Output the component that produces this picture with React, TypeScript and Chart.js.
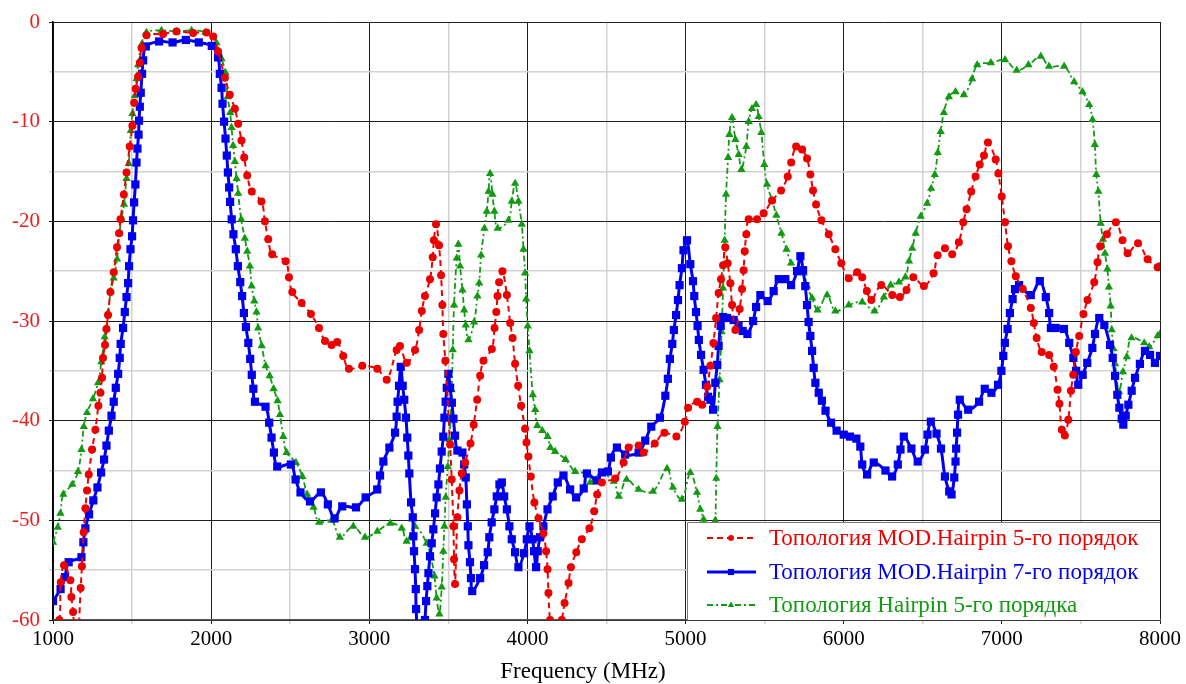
import React, { useEffect, useRef } from "react";
import { Chart, registerables } from "chart.js";

Chart.register(...registerables);

// ---------- DATA ----------
const seriesLabels = [
  "Топология MOD.Hairpin 5-го порядок",
  "Топология MOD.Hairpin 7-го порядок",
  "Топология Hairpin 5-го порядка",
];
const xTickValues = [1000, 2000, 3000, 4000, 5000, 6000, 7000, 8000];
const yTickValues = [0, -10, -20, -30, -40, -50, -60];
const xTitle = "Frequency (MHz)";

const redFreq = [
  1000, 1040, 1049, 1070, 1110, 1116, 1127, 1150, 1175, 1183, 1194, 1205, 1215, 1226, 1247, 1268, 1287, 1300, 1310, 1316,
  1329, 1338, 1348, 1363, 1384, 1405, 1418, 1427, 1448, 1465, 1485, 1502, 1513, 1523, 1538, 1549, 1560, 1591, 1696, 1781,
  1886, 1971, 2013, 2044, 2087, 2118, 2150, 2171, 2192, 2209, 2228, 2257, 2318, 2340, 2361, 2386, 2471, 2492, 2513, 2572,
  2631, 2682, 2720, 2762, 2797, 2835, 2871, 2956, 3051, 3110, 3173, 3194, 3237, 3289, 3315, 3332, 3352, 3384, 3401, 3409,
  3422, 3441, 3454, 3462, 3468, 3481, 3511, 3521, 3532, 3536, 3542, 3557, 3570, 3585, 3606, 3640, 3660, 3682, 3701, 3722,
  3775, 3792, 3803, 3811, 3821, 3842, 3870, 3891, 3906, 3922, 3941, 3960, 3985, 3994, 4006, 4021, 4044, 4070, 4101, 4118,
  4127, 4133, 4143, 4180, 4218, 4235, 4260, 4275, 4309, 4344, 4392, 4422, 4441, 4471, 4555, 4608, 4640, 4703, 4735, 4805,
  4866, 4942, 4995, 5016, 5073, 5105, 5136, 5157, 5176, 5193, 5209, 5224, 5237, 5251, 5266, 5283, 5294, 5315, 5342, 5357,
  5367, 5374, 5384, 5399, 5452, 5494, 5547, 5604, 5646, 5668, 5699, 5737, 5768, 5789, 5806, 5825, 5859, 5905, 5947, 5985,
  6032, 6085, 6117, 6146, 6175, 6237, 6307, 6355, 6397, 6440, 6507, 6568, 6594, 6640, 6686, 6728, 6756, 6777, 6806, 6834,
  6860, 6887, 6912, 6961, 6978, 6999, 7020, 7039, 7060, 7088, 7132, 7183, 7202, 7220, 7252, 7299, 7328, 7352, 7364, 7379,
  7398, 7420, 7437, 7451, 7468, 7489, 7516, 7542, 7584, 7605, 7622, 7664, 7721, 7763, 7795, 7861, 7922, 7985, 8000,
];
const redLoss = [
  -62, -60, -56.2, -54.5, -56, -57.7, -59.2, -64, -56.8, -54.6, -51.2, -48.8, -47, -45.4, -42.9, -40.9, -38.5, -37.2, -35.7, -33.7,
  -32.4, -30.8, -29.4, -27.1, -25.1, -22.6, -21.2, -19.8, -17.3, -15.1, -12.5, -10.4, -8.1, -6.7, -5.5, -4.1, -2.6, -1.34, -1.2, -0.95,
  -1.1, -1.05, -1.45, -2.95, -5.6, -7.3, -8.7, -10.2, -11.9, -13.6, -15.4, -17.0, -18.0, -20, -21.8, -23.3, -24.0, -25.6, -27.1, -28.2,
  -29.3, -30.7, -32.0, -32.4, -32.1, -33.5, -34.8, -34.5, -34.8, -35.9, -32.9, -32.5, -34.2, -32.9, -30.9, -29, -27.5, -25.8, -23.6, -21.9,
  -20.3, -22.4, -25.4, -28.4, -31.3, -34.0, -42.4, -45.9, -50.6, -53.9, -56.4, -49.7, -47, -45.3, -44.2, -42.3, -40.4, -37.9, -35.5, -34,
  -32.8, -30.7, -29.1, -27.5, -26.1, -25, -27.4, -30.2, -31.7, -34.3, -36.5, -38.5, -40.8, -42.2, -43.6, -45.6, -48.2, -49.8, -51.3, -53.1,
  -54.9, -57.3, -60, -64, -60, -58.3, -56.3, -54.7, -53.2, -51.9, -50.8, -49.1, -47.4, -46.2, -45.8, -44.2, -42.7, -42.5, -43.2, -42.3,
  -41.2, -41.6, -40.1, -38.7, -38.1, -38.4, -36.6, -34.5, -32.2, -29.7, -27.2, -25.8, -24.4, -22.6, -24.2, -26.2, -28.4, -30.9, -28.8, -26.8,
  -24.9, -23, -21.3, -19.8, -19.8, -19.2, -17.9, -16.9, -15.5, -14.1, -12.5, -12.8, -13.7, -15.3, -16.9, -18.3, -19.9, -21.3, -22.8, -24.2,
  -25.7, -25.1, -25.6, -27.0, -27.9, -26.4, -27.4, -27.6, -26.9, -25.6, -26.5, -25.2, -23.4, -22.7, -23.3, -22.1, -20.1, -18.8, -17, -15.5,
  -14.3, -13.4, -12.1, -13.8, -15.2, -17.5, -20.1, -22.5, -24, -25.5, -26.8, -28.7, -30.2, -31.7, -33.1, -33.4, -34.6, -36.9, -38.3, -40.9,
  -41.5, -39.9, -37, -35.4, -33.1, -31.5, -29.3, -27.9, -26.1, -24.1, -22.5, -21.3, -20.1, -21.9, -23.2, -22.2, -23.8, -24.6, -24.5,
];

const blueFreq = [
  1000, 1048, 1076, 1099, 1180, 1192, 1205, 1228, 1255, 1281, 1304, 1323, 1338, 1353, 1370, 1384, 1397, 1412, 1422, 1428,
  1443, 1454, 1465, 1475, 1481, 1490, 1500, 1506, 1513, 1521, 1528, 1534, 1541, 1544, 1549, 1555, 1563, 1570, 1587, 1671,
  1756, 1840, 1922, 2004, 2044, 2055, 2066, 2072, 2082, 2091, 2099, 2106, 2114, 2120, 2130, 2141, 2156, 2169, 2184, 2196,
  2207, 2220, 2235, 2247, 2257, 2267, 2277, 2344, 2367, 2382, 2397, 2418, 2504, 2534, 2565, 2625, 2694, 2738, 2781, 2829,
  2916, 2977, 3050, 3068, 3089, 3127, 3163, 3173, 3179, 3188, 3199, 3211, 3221, 3232, 3240, 3247, 3253, 3264, 3275, 3279,
  3283, 3289, 3294, 3296, 3320, 3352, 3359, 3367, 3374, 3384, 3395, 3405, 3416, 3426, 3437, 3447, 3458, 3468, 3475, 3483,
  3490, 3500, 3511, 3522, 3532, 3542, 3557, 3589, 3600, 3610, 3617, 3623, 3627, 3637, 3643, 3651, 3701, 3726, 3749, 3759,
  3774, 3791, 3806, 3823, 3838, 3853, 3870, 3886, 3901, 3922, 3943, 3979, 3996, 4013, 4032, 4042, 4055, 4065, 4080, 4101,
  4127, 4160, 4192, 4228, 4270, 4308, 4356, 4376, 4439, 4471, 4509, 4528, 4566, 4618, 4703, 4745, 4783, 4838, 4872, 4888,
  4901, 4916, 4926, 4940, 4952, 4962, 4977, 4987, 5009, 5030, 5047, 5055, 5066, 5076, 5084, 5098, 5114, 5129, 5142, 5157,
  5174, 5188, 5200, 5209, 5222, 5237, 5262, 5304, 5335, 5361, 5391, 5427, 5446, 5473, 5519, 5557, 5589, 5631, 5667, 5705,
  5726, 5743, 5757, 5768, 5778, 5789, 5800, 5810, 5821, 5842, 5862, 5885, 5920, 5955, 6000, 6040, 6080, 6105, 6117, 6148,
  6190, 6264, 6306, 6342, 6359, 6380, 6428, 6468, 6513, 6530, 6551, 6587, 6615, 6640, 6667, 6682, 6699, 6707, 6711, 6717,
  6723, 6734, 6787, 6856, 6892, 6934, 6976, 6997, 7009, 7019, 7036, 7051, 7068, 7083, 7109, 7183, 7240, 7278, 7299, 7310,
  7340, 7393, 7426, 7452, 7469, 7483, 7511, 7540, 7572, 7589, 7616, 7648, 7684, 7701, 7716, 7730, 7743, 7758, 7768, 7783,
  7800, 7821, 7842, 7873, 7905, 7937, 7968, 8000,
];
const blueLoss = [
  -58.1, -56.9, -55.7, -54.2, -53.7, -52.2, -50.8, -49.4, -48.0, -46.7, -45.2, -43.9, -42.5, -41.0, -39.5, -38.1, -36.7, -35.3, -33.7, -32.3,
  -30.7, -29.1, -27.6, -26.2, -24.5, -22.8, -21.5, -19.9, -18.1, -16.3, -14.1, -12.7, -11.3, -9.9, -8.5, -7.1, -5.2, -3.85, -2.45, -1.95,
  -2.05, -1.8, -2.05, -2.4, -3.55, -5.2, -6.6, -8.2, -10, -11.7, -13.4, -15.1, -16.6, -18.05, -19.8, -21.3, -22.8, -24.5, -26.1, -27.5,
  -29.2, -30.6, -32.2, -33.8, -35.4, -36.8, -38.1, -38.6, -40.2, -41.7, -43.2, -44.6, -44.4, -45.9, -47.2, -48.1, -47.2, -48.4, -49.8, -48.6,
  -48.7, -47.7, -46.9, -45.5, -44.1, -42.7, -41.2, -39.6, -38.1, -36.5, -34.6, -36.5, -37.9, -39.7, -41.7, -43.5, -45.3, -48.2, -49.7, -51.6,
  -53.1, -54.9, -56.9, -58.9, -65, -60, -58.1, -56.6, -55.3, -53.6, -52.3, -50.9, -49.3, -47.7, -46.4, -44.8, -43.1, -41.6, -39.7, -38.1,
  -36.7, -35.3, -36.7, -38.2, -39.8, -41.5, -43, -43.2, -44.4, -45.7, -48.4, -50.6, -52.5, -54.2, -55.8, -57.1, -55.8, -54.5, -53.2, -51.7,
  -50.2, -48.9, -47.6, -46.4, -46.2, -47.6, -48.9, -50.6, -51.9, -53.2, -54.7, -53.3, -51.9, -50.6, -51.9, -53.1, -54.7, -53.1, -51.7, -50.6,
  -48.9, -47.6, -46.2, -45.5, -46.9, -47.7, -46.8, -45.3, -46.0, -45.2, -45.1, -43.7, -42.7, -43.4, -43.2, -42, -40.6, -39.7, -37.5, -35.8,
  -33.8, -32.3, -30.9, -29.4, -27.9, -26.4, -24.7, -22.9, -21.9, -24.3, -26, -27.5, -29.1, -30.5, -31.9, -33.4, -34.9, -36.4, -37.6, -37.9,
  -38.9, -36.2, -34.4, -32.5, -30.5, -29.6, -29.7, -29.9, -30.5, -31.0, -31.3, -30.0, -28.6, -27.4, -28.0, -27.0, -25.8, -25.8, -26.4, -25.0,
  -23.5, -24.9, -26.5, -28.4, -30.1, -31.5, -33, -34.7, -36.2, -37.2, -38.0, -39.0, -40.2, -41.0, -41.4, -41.6, -41.8, -42.6, -44.4, -45.4,
  -44.2, -45, -45.6, -44.4, -42.9, -41.6, -42.8, -44.1, -42.9, -41.4, -40.1, -41.3, -42.8, -45.6, -47.1, -47.4, -45.7, -44.1, -42.8, -41.2,
  -39.4, -37.9, -38.9, -38.1, -36.8, -37.2, -36.4, -35.0, -33.5, -32.2, -30.8, -29.2, -27.8, -26.8, -26.4, -27.4, -26.0, -27.6, -29.2, -30.7,
  -30.7, -30.8, -32.2, -33.7, -35, -36.4, -35.4, -34.2, -32.7, -31.3, -29.7, -30.4, -32.4, -33.7, -35.5, -37.4, -38.7, -39.8, -40.4, -39.5,
  -38.4, -37, -35.7, -34.3, -33.0, -33.4, -34.2, -33.5,
];

const greenFreq = [
  1000, 1030, 1047, 1065, 1122, 1158, 1180, 1195, 1215, 1253, 1285, 1306, 1327, 1338, 1348, 1365, 1384, 1405, 1420, 1433,
  1449, 1465, 1479, 1492, 1502, 1517, 1528, 1538, 1559, 1591, 1686, 1781, 1876, 1964, 2034, 2066, 2091, 2104, 2120, 2129,
  2139, 2150, 2161, 2171, 2190, 2213, 2228, 2245, 2256, 2273, 2287, 2297, 2320, 2345, 2370, 2395, 2420, 2435, 2456, 2477,
  2536, 2577, 2607, 2648, 2683, 2762, 2814, 2899, 2973, 3051, 3133, 3205, 3236, 3289, 3363, 3391, 3412, 3426, 3443, 3458,
  3468, 3475, 3483, 3496, 3506, 3515, 3521, 3528, 3536, 3553, 3563, 3574, 3589, 3600, 3610, 3627, 3663, 3684, 3695, 3707,
  3728, 3743, 3754, 3764, 3779, 3791, 3812, 3880, 3901, 3922, 3943, 3964, 3975, 3985, 3992, 4002, 4013, 4034, 4049, 4062,
  4094, 4128, 4145, 4175, 4241, 4302, 4376, 4397, 4462, 4546, 4578, 4627, 4703, 4794, 4883, 4920, 4977, 5030, 5072, 5093,
  5114, 5140, 5170, 5188, 5194, 5202, 5215, 5228, 5237, 5247, 5256, 5269, 5277, 5294, 5315, 5336, 5353, 5384, 5399, 5420,
  5446, 5462, 5479, 5498, 5515, 5547, 5574, 5606, 5638, 5667, 5705, 5747, 5768, 5800, 5835, 5895, 5947, 6032, 6117, 6195,
  6254, 6297, 6349, 6390, 6413, 6433, 6455, 6487, 6528, 6553, 6576, 6595, 6613, 6633, 6665, 6707, 6760, 6812, 6844, 6930,
  7020, 7094, 7168, 7246, 7298, 7394, 7457, 7510, 7552, 7573, 7588, 7597, 7610, 7625, 7639, 7652, 7667, 7677, 7688, 7695,
  7706, 7716, 7741, 7766, 7790, 7820, 7900, 7932, 7985, 8000,
];
const greenLoss = [
  -52.2, -50.7, -49.3, -47.4, -46.4, -45.1, -42.9, -40.6, -39.2, -37.8, -36.2, -34.1, -31.6, -30.7, -29.2, -27, -25.7, -23.8, -21.2, -19.7,
  -18.3, -15.7, -14.2, -10.9, -9.2, -7.4, -5.7, -4.3, -2.3, -1.05, -0.85, -0.95, -0.85, -1.05, -2.1, -3.7, -5.1, -7.5, -9.1, -10.6,
  -12.4, -14.0, -15.7, -17.2, -19.8, -21.7, -23, -24.5, -26.5, -28, -29.1, -30.7, -32.5, -34.5, -35.5, -36.8, -38.0, -39.4, -41.6, -43.2,
  -44.2, -45.6, -47.4, -48.7, -50.2, -50.0, -51.7, -50.6, -51.7, -51.1, -50.3, -50.8, -52.1, -50.6, -52.3, -53.8, -55.6, -57.8, -59.4, -56.7,
  -53.1, -50.6, -47.7, -44.6, -41.9, -39.7, -36.9, -32.9, -28.4, -23.7, -22.3, -24.5, -26.9, -28.9, -30.4, -31.9, -30.1, -27.5, -26.2, -23.4,
  -20.7, -19, -17, -15.2, -17.3, -19, -20.7, -19.9, -18, -16.2, -18, -20.3, -22.8, -25.2, -27.8, -30.5, -33, -37.4, -38.9, -40.5,
  -41.0, -41.6, -42.7, -43.1, -43.9, -45.1, -45.3, -46.2, -45.3, -46.1, -47.6, -45.9, -46.9, -47.1, -44.8, -46.7, -47.9, -45.2, -47.2, -48.9,
  -49.9, -54, -54, -50, -45.8, -40.6, -35.9, -31.1, -26.7, -21.9, -17.3, -13.6, -11.3, -9.6, -11.8, -13.3, -14.8, -12.5, -10, -8.7,
  -8.3, -9.5, -11.1, -14.3, -16.3, -17.9, -19.4, -21.2, -22.8, -24.2, -25.1, -25.2, -26.5, -27.7, -28.9, -27.4, -29.0, -28.4, -28.1, -29.0,
  -27.6, -26.4, -26.1, -25.6, -24.0, -22.7, -21.2, -19.5, -18.2, -16.7, -15.3, -13.1, -11, -9.1, -7.5, -7, -7.3, -5.7, -4.3, -4.1,
  -3.8, -4.85, -4.3, -3.45, -4.45, -4.45, -6, -7, -8.3, -9.8, -12.3, -15.3, -17, -20.2, -21.8, -23.2, -24.8, -26.6, -28.5, -30.9,
  -32.8, -34.3, -37.1, -35.1, -33.6, -31.7, -32.2, -32.6, -31.5, -31.3,
];

// ---------- STYLE ----------
const RED = "#ee0000";
const BLUE = "#0000ee";
const GREEN = "#129a12";
const SERIF = "'Liberation Serif', 'Times New Roman', serif";

const toPoints = (fs: number[], vs: number[]) => fs.map((f, i) => ({ x: f, y: vs[i] }));

const seriesStyles = [
  { color: RED, dash: [6, 4], width: 2, pointStyle: "circle", radius: 4 },
  { color: BLUE, dash: [] as number[], width: 3, pointStyle: "rect", radius: 5.8 },
  { color: GREEN, dash: [6, 3, 2, 3], width: 1.8, pointStyle: "triangle", radius: 4.8 },
];

const legendPlugin = {
  id: "customLegend",
  afterDatasetsDraw(chart: any) {
    const { ctx, chartArea } = chart;
    const left = 687;
    const top = 522;
    const right = chartArea.right;
    const bottom = chartArea.bottom;
    ctx.save();
    ctx.fillStyle = "#ffffff";
    ctx.fillRect(left, top, right - left, bottom - top);
    ctx.strokeStyle = "#7a7a7a";
    ctx.lineWidth = 1;
    ctx.beginPath();
    ctx.moveTo(left + 0.5, bottom);
    ctx.lineTo(left + 0.5, top + 0.5);
    ctx.lineTo(right, top + 0.5);
    ctx.stroke();
    const rows = [538, 572, 605];
    seriesLabels.forEach((label, i) => {
      const st = seriesStyles[i];
      const y = rows[i];
      ctx.strokeStyle = st.color;
      ctx.lineWidth = st.width;
      ctx.setLineDash(st.dash.length ? st.dash : []);
      ctx.beginPath();
      ctx.moveTo(707, y);
      ctx.lineTo(756, y);
      ctx.stroke();
      ctx.setLineDash([]);
      ctx.fillStyle = st.color;
      const r = st.radius * 0.75;
      ctx.beginPath();
      if (st.pointStyle === "circle") {
        ctx.arc(731, y, r, 0, Math.PI * 2);
      } else if (st.pointStyle === "rect") {
        const s = r * Math.SQRT1_2;
        ctx.rect(731 - s, y - s, 2 * s, 2 * s);
      } else {
        ctx.moveTo(731, y - r);
        ctx.lineTo(731 + r * 0.9, y + r * 0.55);
        ctx.lineTo(731 - r * 0.9, y + r * 0.55);
        ctx.closePath();
      }
      ctx.fill();
      ctx.font = `23px ${SERIF}`;
      ctx.textBaseline = "middle";
      ctx.textAlign = "left";
      ctx.fillText(label, 769, y + 1);
    });
    ctx.restore();
  },
  afterDraw(chart: any) {
    const { ctx } = chart;
    ctx.save();
    ctx.font = `23px ${SERIF}`;
    ctx.fillStyle = "#000";
    ctx.textAlign = "center";
    ctx.textBaseline = "alphabetic";
    ctx.fillText(xTitle, 583, 678);
    ctx.restore();
  },
};

const majorX = (v: number) => xTickValues.includes(v);
const majorY = (v: number) => yTickValues.includes(v);

export default function App() {
  const canvasRef = useRef<HTMLCanvasElement | null>(null);

  useEffect(() => {
    const canvas = canvasRef.current;
    if (!canvas) return;
    const data = [toPoints(redFreq, redLoss), toPoints(blueFreq, blueLoss), toPoints(greenFreq, greenLoss)];
    const chart = new Chart(canvas, {
      type: "line",
      data: {
        datasets: seriesLabels.map((label, i) => {
          const st = seriesStyles[i];
          return {
            label,
            data: data[i],
            borderColor: st.color,
            backgroundColor: st.color,
            borderWidth: st.width,
            borderDash: st.dash,
            pointStyle: st.pointStyle as any,
            pointRadius: st.radius,
            pointBorderWidth: 0,
            pointBackgroundColor: st.color,
            pointBorderColor: st.color,
            tension: 0.35,
            fill: false,
          };
        }),
      },
      options: {
        responsive: false,
        animation: false,
        devicePixelRatio: 1,
        layout: { padding: { left: 0, top: 22, right: 26, bottom: 0 } },
        plugins: {
          legend: { display: false },
          tooltip: { enabled: false },
        },
        scales: {
          x: {
            type: "linear",
            min: 1000,
            max: 8000,
            afterFit: (s: any) => {
              s.height = 64;
              s.paddingLeft = 0;
              s.paddingRight = 0;
            },
            ticks: {
              stepSize: 500,
              autoSkip: false,
              maxRotation: 0,
              padding: 3,
              color: "#000",
              font: { family: SERIF, size: 21 },
              callback: (v: any) => (majorX(Number(v)) ? String(v) : ""),
            },
            grid: {
              tickLength: 4,
              color: (c: any) => (c.tick && majorX(c.tick.value) ? "#1e1e1e" : "#d2d2d2"),
              lineWidth: (c: any) => (c.tick && majorX(c.tick.value) ? 1 : 1.5),
              tickColor: (c: any) => (c.tick && majorX(c.tick.value) ? "#1e1e1e" : "#d2d2d2"),
            },
            border: { color: "#555", width: 1.5 },
          },
          y: {
            min: -60,
            max: 0,
            afterFit: (s: any) => {
              s.width = 53;
              s.paddingTop = 0;
              s.paddingBottom = 0;
            },
            ticks: {
              stepSize: 5,
              autoSkip: false,
              padding: 9,
              color: "#e82020",
              font: { family: SERIF, size: 21 },
              callback: (v: any) => (majorY(Number(v)) ? String(v) : ""),
            },
            grid: {
              tickLength: 4,
              color: (c: any) => (c.tick && majorY(c.tick.value) ? "#1e1e1e" : "#d2d2d2"),
              lineWidth: (c: any) => (c.tick && majorY(c.tick.value) ? 1 : 1.5),
              tickColor: (c: any) => (c.tick && majorY(c.tick.value) ? "#1e1e1e" : "#d2d2d2"),
            },
            border: { color: "#000", width: 1.5 },
          },
        },
      } as any,
      plugins: [legendPlugin],
    });
    return () => chart.destroy();
  }, []);

  return (
    <div style={{ position: "fixed", left: 0, top: 0, width: 1186, height: 684, background: "#fff" }}>
      <canvas ref={canvasRef} width={1186} height={684} style={{ display: "block", width: 1186, height: 684 }} />
    </div>
  );
}
